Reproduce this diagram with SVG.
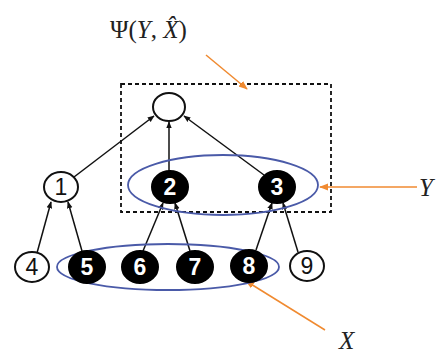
<svg xmlns="http://www.w3.org/2000/svg" width="447" height="356" viewBox="0 0 447 356">
<defs>
<marker id="ah" viewBox="0 0 10 10" refX="9" refY="5" markerWidth="7" markerHeight="7" orient="auto" markerUnits="userSpaceOnUse"><path d="M0,1 L10,5 L0,9 Z" fill="#111"/></marker>
<marker id="oh" viewBox="0 0 10 10" refX="9" refY="5" markerWidth="9" markerHeight="9" orient="auto" markerUnits="userSpaceOnUse"><path d="M0,1 L10,5 L0,9 Z" fill="#f08a30"/></marker>
<style>
.w{fill:#fff;stroke:#111;stroke-width:2}
.b{fill:#000;stroke:#000;stroke-width:2}
.tw{font-family:"Liberation Sans",Arial,sans-serif;font-size:23px;text-anchor:middle;fill:#111}
.tb{font-family:"Liberation Sans",Arial,sans-serif;font-weight:bold;font-size:23px;text-anchor:middle;fill:#fff}
.e{stroke:#111;stroke-width:1.5;fill:none;marker-end:url(#ah)}
.o{stroke:#f08a30;stroke-width:1.5;fill:none;marker-end:url(#oh)}
.lab{font-family:"Liberation Serif","Times New Roman",serif;font-style:italic;font-size:25px;fill:#222}
.ell{fill:none;stroke:#4a5aa8;stroke-width:1.8}
</style>
</defs>
<rect x="121" y="84" width="210" height="128" fill="none" stroke="#111" stroke-width="1.8" stroke-dasharray="4,3"/>
<g id="connectors">
<line class="e" x1="74" y1="177" x2="154" y2="116"/>
<line class="e" x1="169" y1="171" x2="169" y2="122"/>
<line class="e" x1="264" y1="175" x2="184" y2="116"/>
<line class="e" x1="37" y1="253" x2="51" y2="202"/>
<line class="e" x1="82" y1="251" x2="68" y2="202"/>
<line class="e" x1="143" y1="251" x2="163" y2="203"/>
<line class="e" x1="190" y1="251" x2="175" y2="203"/>
<line class="e" x1="256" y1="250" x2="272" y2="203"/>
<line class="e" x1="298" y1="252" x2="283" y2="203"/>
<line class="o" x1="206" y1="55" x2="247" y2="89"/>
<line class="o" x1="417" y1="187" x2="320" y2="187"/>
<line class="o" x1="325" y1="330" x2="246" y2="281"/>
</g>
<ellipse class="ell" cx="223" cy="185" rx="95" ry="30"/>
<ellipse class="ell" cx="168" cy="267" rx="111" ry="23"/>
<g id="top"><ellipse class="w" cx="169" cy="107" rx="16" ry="14"/></g>
<g id="n1"><ellipse class="w" cx="61" cy="187" rx="17" ry="15"/><text class="tw" x="61" y="195">1</text></g>
<g id="n2"><ellipse class="b" cx="170" cy="187" rx="18" ry="16"/><text class="tb" x="170" y="195">2</text></g>
<g id="n3"><ellipse class="b" cx="277" cy="187" rx="18" ry="16"/><text class="tb" x="277" y="195">3</text></g>
<g id="n4"><ellipse class="w" cx="32" cy="267" rx="17" ry="15"/><text class="tw" x="32" y="275">4</text></g>
<g id="n5"><ellipse class="b" cx="87" cy="267" rx="18" ry="16"/><text class="tb" x="87" y="275">5</text></g>
<g id="n6"><ellipse class="b" cx="140" cy="267" rx="18" ry="16"/><text class="tb" x="140" y="275">6</text></g>
<g id="n7"><ellipse class="b" cx="195" cy="267" rx="18" ry="16"/><text class="tb" x="195" y="275">7</text></g>
<g id="n8"><ellipse class="b" cx="249" cy="266" rx="18" ry="16"/><text class="tb" x="249" y="274">8</text></g>
<g id="n9"><ellipse class="w" cx="307" cy="266" rx="17" ry="15"/><text class="tw" x="307" y="274">9</text></g>
<text x="110" y="38" style="font-family:'Liberation Serif','Times New Roman',serif;font-size:25px;fill:#222">Ψ(<tspan font-style="italic">Y</tspan>, <tspan font-style="italic">X̂</tspan>)</text>
<text class="lab" x="419" y="196">Y</text>
<text class="lab" x="339" y="349">X</text>
</svg>
